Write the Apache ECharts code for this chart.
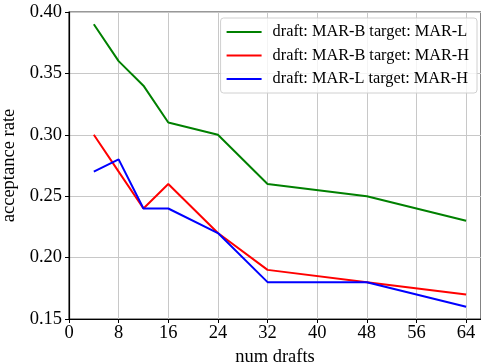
<!DOCTYPE html>
<html><head><meta charset="utf-8">
<script src="https://cdn.jsdelivr.net/npm/echarts@6/dist/echarts.min.js"></script>
<style>html,body{margin:0;padding:0;background:#fff}#c{width:481px;height:364px}</style>
</head><body><div id="c"></div>
<script>
const numDrafts = [4, 8, 12, 16, 24, 32, 48, 64];
const xTicks = [0, 8, 16, 24, 32, 40, 48, 56, 64];
const seriesNames = ['draft: MAR-B target: MAR-L', 'draft: MAR-B target: MAR-H', 'draft: MAR-L target: MAR-H'];
const mbToMl = [0.39, 0.36, 0.34, 0.31, 0.30, 0.26, 0.25, 0.23];
const mbToMh = [0.30, 0.27, 0.24, 0.26, 0.22, 0.19, 0.18, 0.17];
const mlToMh = [0.27, 0.28, 0.24, 0.24, 0.22, 0.18, 0.18, 0.16];
const colors = ['#008000', '#ff0000', '#0000ff'];
const font = 'Liberation Serif';
const chart = echarts.init(document.getElementById('c'), null, {renderer: 'canvas'});
const allVals = [mbToMl, mbToMh, mlToMh];
chart.setOption({
  animation: false,
  textStyle: {fontFamily: font},
  grid: {left: 69, right: 0, top: 12, bottom: 45, containLabel: false, outerBoundsMode: 'none',
    show: true, borderColor: '#333', borderWidth: 1.2, backgroundColor: 'transparent'},
  legend: {
    top: 18, right: 4, orient: 'vertical', itemGap: 7.5, itemWidth: 35, itemHeight: 2,
    padding: [6, 8, 6, 6],
    backgroundColor: 'rgba(255,255,255,0.8)', borderColor: '#d0d0d0', borderWidth: 1, borderRadius: 3,
    textStyle: {fontFamily: font, fontSize: 16.3, color: '#000', padding: [0, 0, 0, 6]},
    icon: 'rect',
    data: seriesNames
  },
  xAxis: {
    type: 'value', min: 0, max: 66.4, interval: 8,
    name: 'num drafts', nameLocation: 'middle', nameGap: 26,
    nameTextStyle: {fontFamily: font, fontSize: 18.5, color: '#000'},
    axisLine: {show: true, onZero: false, lineStyle: {color: '#000', width: 1.2}},
    axisTick: {show: true, length: 4, lineStyle: {color: '#000'}},
    axisLabel: {fontFamily: font, fontSize: 18.5, color: '#000', margin: 5,
      formatter: v => xTicks.includes(v) ? String(v) : ''},
    splitLine: {show: true, lineStyle: {color: '#c8c8c8', width: 1}}
  },
  yAxis: {
    type: 'value', min: 0.15, max: 0.40, interval: 0.05,
    name: 'acceptance rate', nameLocation: 'middle', nameGap: 49,
    nameTextStyle: {fontFamily: font, fontSize: 18.5, color: '#000'},
    axisLine: {show: true, lineStyle: {color: '#000', width: 1.2}},
    axisTick: {show: true, length: 4, lineStyle: {color: '#000'}},
    axisLabel: {fontFamily: font, fontSize: 18.5, color: '#000', margin: 7, formatter: v => v.toFixed(2)},
    splitLine: {show: true, lineStyle: {color: '#c8c8c8', width: 1}}
  },
  series: seriesNames.map((n, i) => ({
    name: n, type: 'line', showSymbol: false, symbol: 'none',
    lineStyle: {color: colors[i], width: 2}, itemStyle: {color: colors[i]},
    data: numDrafts.map((x, j) => [x, allVals[i][j]])
  }))
});
</script></body></html>
